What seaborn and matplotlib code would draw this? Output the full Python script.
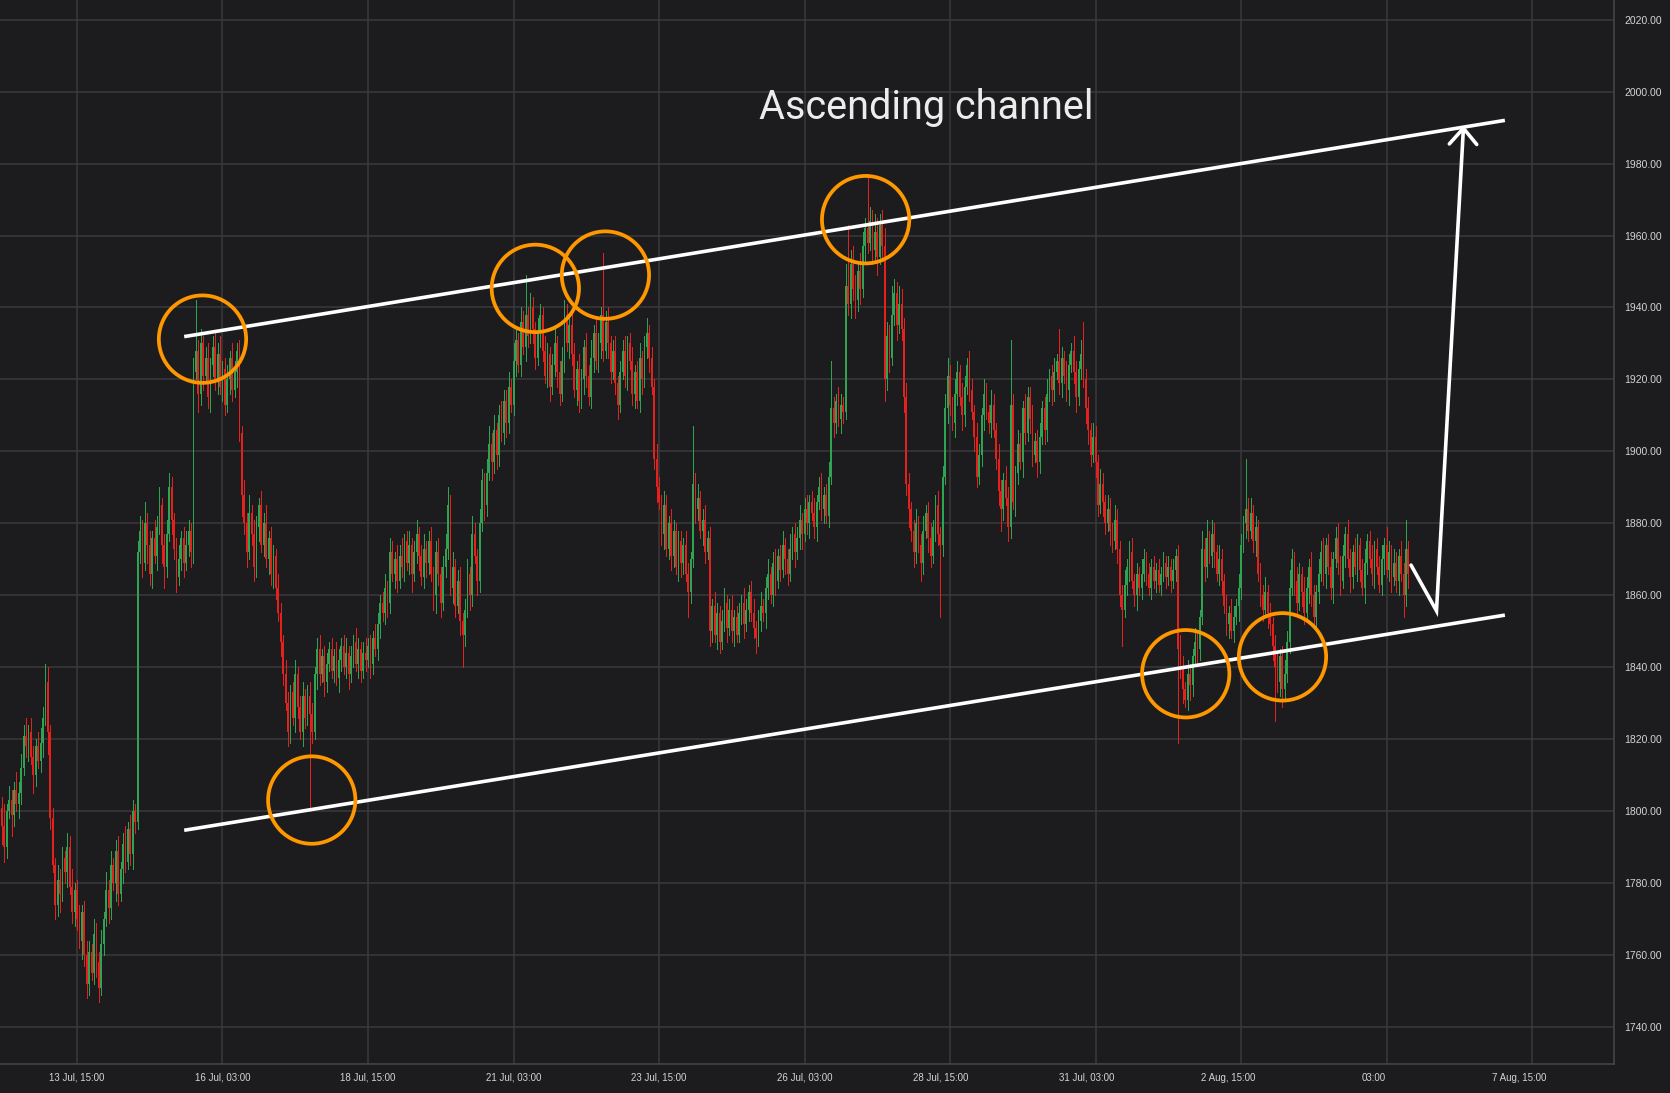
import numpy as np
import pandas as pd
import matplotlib
matplotlib.use("Agg")
import matplotlib.pyplot as plt
import matplotlib.dates as mdates
import matplotlib.transforms as mtransforms
from matplotlib.patches import Ellipse
import seaborn as sns

# ------------------------------------------------------------------ data
start_time = "2023-07-12 08:00"   # first hourly candle
first_open = 1801

close = [
    1796, 1790, 1800, 1803, 1799, 1806, 1802, 1805, 1812, 1821, 1818, 1822, 1815, 1810, 1818, 1814,
    1819, 1826, 1836, 1822, 1798, 1785, 1774, 1781, 1777, 1787, 1783, 1790, 1779, 1772, 1778, 1770, 1764, 1772, 1760, 1752, 1761, 1755, 1766, 1758,
    1751, 1763, 1770, 1778, 1773, 1785, 1780, 1789, 1777, 1784, 1791, 1786, 1795, 1788, 1800, 1797, 1872, 1878, 1869, 1880, 1874, 1866, 1876, 1871,
    1879, 1885, 1874, 1868, 1877, 1890, 1881, 1873, 1865, 1870, 1876, 1869, 1874, 1878, 1872, 1922, 1928, 1916, 1930, 1921, 1926, 1915, 1924, 1929,
    1920, 1927, 1918, 1923, 1913, 1920, 1926, 1917, 1922, 1928, 1905, 1888, 1880, 1872, 1883, 1877, 1868, 1879, 1885, 1874, 1880, 1870, 1876, 1866,
    1871, 1862, 1855, 1847, 1838, 1830, 1822, 1833, 1826, 1838, 1829, 1822, 1832, 1826, 1832, 1827, 1822, 1838, 1845, 1838, 1843, 1836, 1841, 1845,
    1839, 1843, 1837, 1842, 1846, 1840, 1844, 1838, 1843, 1847, 1841, 1845, 1839, 1844, 1842, 1846, 1841, 1848, 1845, 1852, 1858, 1855, 1862, 1858,
    1872, 1866, 1870, 1864, 1871, 1868, 1875, 1869, 1874, 1866, 1872, 1877, 1871, 1865, 1873, 1869, 1875, 1866, 1860, 1872, 1866, 1858, 1868, 1873,
    1885, 1862, 1868, 1857, 1864, 1853, 1849, 1856, 1866, 1860, 1877, 1871, 1864, 1880, 1892, 1885, 1894, 1902, 1897, 1906, 1899, 1910, 1905, 1914,
    1908, 1918, 1913, 1925, 1931, 1924, 1936, 1929, 1938, 1932, 1940, 1934, 1926, 1933, 1938, 1928, 1921, 1927, 1918, 1924, 1930, 1922, 1916, 1925,
    1938, 1930, 1935, 1927, 1917, 1923, 1914, 1920, 1929, 1921, 1915, 1926, 1933, 1925, 1930, 1938, 1928, 1936, 1930, 1922, 1928, 1919, 1913, 1922,
    1928, 1921, 1930, 1925, 1916, 1922, 1914, 1926, 1920, 1929, 1933, 1926, 1918, 1898, 1890, 1886, 1877, 1885, 1873, 1880, 1871, 1878, 1868, 1875,
    1869, 1874, 1866, 1861, 1870, 1891, 1884, 1887, 1878, 1881, 1872, 1876, 1850, 1857, 1849, 1855, 1847, 1853, 1858, 1851, 1856, 1850, 1854, 1849,
    1855, 1858, 1852, 1856, 1861, 1855, 1851, 1848, 1853, 1857, 1855, 1862, 1866, 1860, 1869, 1864, 1871, 1867, 1874, 1870, 1866, 1873, 1877, 1872,
    1876, 1881, 1877, 1884, 1880, 1886, 1883, 1879, 1886, 1890, 1884, 1888, 1882, 1893, 1912, 1908, 1914, 1909, 1913, 1911, 1946, 1941, 1952, 1945,
    1942, 1950, 1945, 1957, 1962, 1958, 1964, 1956, 1961, 1954, 1963, 1957, 1920, 1932, 1926, 1938, 1944, 1935, 1941, 1934, 1915, 1891, 1884, 1878,
    1872, 1880, 1874, 1869, 1878, 1883, 1876, 1871, 1879, 1885, 1877, 1874, 1893, 1912, 1921, 1913, 1908, 1916, 1922, 1915, 1910, 1918, 1924, 1917,
    1911, 1904, 1893, 1899, 1910, 1916, 1911, 1908, 1913, 1906, 1898, 1889, 1884, 1892, 1887, 1879, 1913, 1886, 1894, 1902, 1897, 1912, 1905, 1915,
    1909, 1899, 1903, 1897, 1904, 1912, 1906, 1916, 1921, 1917, 1922, 1925, 1919, 1926, 1921, 1917, 1924, 1928, 1922, 1915, 1923, 1927, 1920, 1912,
    1906, 1899, 1904, 1897, 1885, 1891, 1886, 1880, 1884, 1878, 1875, 1881, 1873, 1860, 1856, 1863, 1868, 1872, 1864, 1860, 1866, 1862, 1866, 1870,
    1866, 1862, 1868, 1864, 1867, 1863, 1866, 1869, 1865, 1868, 1864, 1867, 1871, 1845, 1840, 1834, 1831, 1838, 1835, 1843, 1847, 1845, 1854, 1873,
    1868, 1876, 1871, 1877, 1872, 1866, 1870, 1864, 1857, 1852, 1855, 1850, 1854, 1857, 1862, 1874, 1880, 1884, 1878, 1883, 1875, 1879, 1866, 1860,
    1856, 1861, 1855, 1852, 1846, 1840, 1836, 1843, 1834, 1838, 1847, 1862, 1870, 1864, 1858, 1866, 1861, 1855, 1862, 1868, 1860, 1854, 1861, 1866,
    1872, 1866, 1874, 1868, 1862, 1870, 1876, 1869, 1864, 1871, 1877, 1870, 1865, 1872, 1868, 1874, 1867, 1862, 1869, 1875, 1870, 1866, 1873, 1868,
    1863, 1870, 1874, 1867, 1872, 1865, 1869, 1864, 1871, 1866, 1860, 1873, 1866,
]

# wick lengths beyond the candle body (price units)
wick_up = [
    3, 6, 2, 4, 3, 2, 5, 3, 4, 3, 5, 2, 4, 3, 2, 4,
    4, 3, 5, 4, 2, 3, 2, 4, 3, 3, 2, 4, 3, 5, 2, 3, 4, 2, 3, 4, 3, 2, 4, 3,
    3, 4, 2, 5, 3, 4, 2, 3, 4, 2, 3, 5, 2, 4, 3, 2, 3, 4, 3, 6, 3, 4, 2, 5,
    3, 5, 2, 3, 4, 4, 3, 2, 3, 4, 2, 3, 4, 3, 2, 4, 14, 3, 4, 2, 3, 4, 2, 3,
    4, 3, 5, 2, 3, 4, 2, 4, 3, 2, 3, 2, 4, 3, 5, 2, 4, 3, 2, 4, 3, 5, 2, 3,
    3, 2, 4, 3, 2, 4, 3, 2, 3, 4, 2, 3, 4, 2, 3, 4, 3, 2, 3, 4, 2, 3, 3, 2,
    3, 2, 4, 3, 2, 3, 4, 2, 3, 2, 4, 3, 2, 3, 4, 2, 3, 2, 4, 3, 2, 3, 4, 2,
    4, 3, 2, 4, 3, 5, 2, 3, 4, 2, 3, 4, 2, 3, 4, 2, 3, 4, 2, 3, 4, 2, 3, 4,
    5, 3, 4, 2, 3, 4, 2, 3, 4, 2, 5, 3, 2, 4, 3, 2, 4, 5, 3, 4, 2, 3, 4, 3,
    3, 4, 2, 5, 3, 2, 4, 3, 11, 2, 4, 3, 2, 4, 3, 2, 4, 3, 2, 3, 4, 2, 3, 4,
    4, 3, 2, 4, 3, 2, 4, 3, 2, 4, 3, 5, 2, 4, 3, 2, 17, 3, 4, 2, 3, 4, 2, 3,
    3, 4, 2, 3, 4, 2, 3, 4, 2, 3, 4, 2, 3, 2, 4, 3, 2, 4, 3, 2, 4, 3, 2, 3,
    3, 2, 4, 3, 2, 16, 3, 4, 2, 3, 4, 2, 3, 2, 4, 3, 2, 3, 4, 2, 3, 4, 2, 3,
    3, 2, 4, 3, 2, 3, 4, 2, 3, 4, 2, 3, 4, 2, 3, 4, 2, 3, 4, 2, 3, 4, 2, 3,
    3, 4, 2, 3, 4, 2, 3, 4, 2, 3, 4, 2, 3, 4, 13, 3, 2, 4, 3, 2, 6, 17, 4, 5,
    4, 3, 5, 4, 3, 15, 4, 3, 5, 4, 3, 4, 5, 4, 3, 8, 4, 3, 5, 4, 3, 4, 3, 2,
    3, 4, 2, 3, 4, 2, 3, 4, 2, 3, 4, 2, 3, 4, 5, 3, 2, 4, 3, 2, 4, 3, 2, 4,
    3, 2, 4, 3, 2, 4, 3, 2, 4, 3, 2, 4, 3, 2, 4, 3, 18, 3, 2, 4, 3, 2, 4, 3,
    3, 4, 2, 3, 4, 2, 3, 4, 2, 3, 4, 2, 9, 3, 2, 4, 3, 2, 4, 3, 2, 4, 9, 3,
    3, 2, 4, 3, 2, 4, 3, 2, 4, 3, 2, 4, 3, 2, 3, 4, 2, 3, 4, 2, 3, 2, 4, 3,
    2, 3, 2, 3, 2, 3, 2, 3, 2, 3, 2, 3, 2, 3, 4, 3, 2, 4, 3, 2, 4, 3, 2, 5,
    3, 5, 2, 4, 3, 2, 4, 3, 2, 3, 2, 4, 3, 2, 4, 3, 2, 14, 3, 4, 2, 3, 2, 3,
    3, 4, 2, 3, 2, 3, 4, 2, 3, 4, 3, 5, 3, 2, 4, 3, 2, 4, 3, 2, 4, 3, 2, 4,
    3, 4, 2, 3, 4, 2, 3, 4, 2, 3, 2, 4, 3, 2, 4, 3, 2, 3, 4, 2, 3, 4, 2, 3,
    3, 4, 2, 5, 3, 2, 4, 3, 2, 4, 3, 8, 2,
]
wick_dn = [
    5, 4, 3, 2, 6, 3, 2, 4, 3, 2, 3, 4, 2, 5, 3, 2,
    3, 4, 2, 6, 3, 2, 4, 3, 5, 2, 3, 4, 2, 3, 4, 3, 2, 5, 3, 4, 3, 2, 3, 4,
    4, 2, 3, 2, 4, 3, 2, 5, 3, 2, 4, 3, 2, 3, 4, 3, 2, 3, 4, 2, 5, 3, 4, 2,
    4, 2, 5, 6, 3, 2, 4, 3, 4, 2, 3, 4, 2, 3, 4, 3, 2, 5, 3, 4, 2, 3, 4, 3,
    3, 4, 2, 4, 3, 2, 4, 3, 2, 4, 2, 6, 3, 4, 2, 3, 4, 3, 4, 2, 3, 2, 4, 3,
    4, 3, 2, 4, 3, 2, 4, 3, 2, 4, 3, 2, 4, 3, 2, 27, 3, 2, 4, 3, 2, 4, 3, 2,
    2, 3, 2, 4, 3, 2, 3, 4, 2, 3, 2, 4, 3, 2, 3, 2, 4, 3, 2, 3, 4, 2, 3, 4,
    3, 2, 4, 3, 2, 3, 4, 2, 3, 5, 2, 3, 4, 2, 3, 4, 3, 2, 4, 5, 3, 4, 2, 3,
    3, 2, 4, 3, 2, 4, 9, 3, 2, 4, 3, 2, 4, 3, 2, 4, 3, 2, 5, 3, 4, 3, 2, 3,
    4, 3, 2, 3, 4, 2, 3, 2, 4, 3, 2, 4, 3, 2, 4, 3, 2, 3, 4, 2, 3, 4, 3, 2,
    3, 2, 4, 3, 2, 4, 3, 2, 4, 3, 2, 3, 4, 2, 3, 4, 3, 2, 4, 3, 2, 3, 4, 2,
    2, 3, 4, 2, 3, 4, 2, 3, 4, 2, 3, 4, 2, 3, 4, 2, 3, 4, 2, 3, 4, 3, 2, 4,
    4, 3, 2, 7, 3, 2, 4, 3, 2, 4, 3, 2, 4, 3, 2, 4, 3, 2, 3, 4, 2, 3, 4, 2,
    2, 3, 4, 2, 3, 2, 3, 4, 2, 3, 2, 4, 3, 2, 3, 4, 2, 3, 2, 4, 3, 2, 3, 4,
    2, 3, 4, 2, 3, 4, 2, 3, 4, 2, 3, 4, 2, 3, 2, 4, 3, 2, 4, 3, 2, 3, 4, 3,
    5, 3, 4, 2, 4, 3, 2, 4, 3, 5, 2, 4, 6, 3, 4, 2, 3, 4, 2, 3, 4, 3, 5, 3,
    4, 3, 2, 5, 3, 2, 4, 3, 2, 4, 3, 20, 3, 2, 4, 3, 2, 4, 3, 2, 4, 3, 2, 3,
    2, 4, 3, 2, 3, 4, 2, 3, 4, 2, 3, 4, 6, 3, 2, 4, 3, 2, 4, 3, 2, 4, 3, 2,
    4, 3, 2, 4, 3, 2, 4, 3, 2, 4, 3, 2, 3, 4, 2, 3, 4, 2, 3, 4, 2, 3, 2, 4,
    4, 3, 2, 4, 3, 2, 4, 3, 2, 4, 3, 2, 4, 3, 10, 2, 3, 4, 2, 3, 4, 2, 3, 2,
    3, 2, 3, 2, 3, 2, 3, 2, 3, 2, 3, 2, 3, 26, 3, 4, 2, 3, 4, 3, 2, 4, 3, 2,
    4, 3, 2, 3, 4, 2, 3, 4, 2, 3, 4, 2, 3, 2, 4, 3, 2, 4, 3, 2, 3, 4, 2, 3,
    3, 2, 4, 3, 4, 15, 3, 4, 5, 3, 2, 3, 2, 4, 3, 2, 4, 3, 2, 4, 3, 2, 4, 3,
    2, 3, 4, 2, 3, 4, 2, 3, 4, 2, 3, 2, 4, 3, 2, 4, 3, 2, 4, 3, 2, 3, 4, 2,
    2, 3, 4, 2, 3, 4, 2, 3, 4, 2, 6, 3, 4,
]

y_ticks = [1740, 1760, 1780, 1800, 1820, 1840, 1860, 1880, 1900, 1920, 1940, 1960, 1980, 2000, 2020]
x_tick_times = ["2023-07-13 15:00", "2023-07-16 03:00", "2023-07-18 15:00", "2023-07-21 03:00",
                "2023-07-23 15:00", "2023-07-26 03:00", "2023-07-28 15:00", "2023-07-31 03:00",
                "2023-08-02 15:00", "2023-08-05 03:00", "2023-08-07 15:00"]
x_tick_labels = ["13 Jul, 15:00", "16 Jul, 03:00", "18 Jul, 15:00", "21 Jul, 03:00",
                 "23 Jul, 15:00", "26 Jul, 03:00", "28 Jul, 15:00", "31 Jul, 03:00",
                 "2 Aug, 15:00", "03:00", "7 Aug, 15:00"]
x_range = ["2023-07-12 07:15", "2023-08-09 00:48"]
y_range = [1729.8, 2025.45]

channel_times = ["2023-07-15 11:12", "2023-08-07 03:48"]
upper_channel = [1931.9, 1992.0]
lower_channel = [1794.7, 1854.5]

touch_times = ["2023-07-15 18:45", "2023-07-17 15:48", "2023-07-21 12:00", "2023-07-22 16:54",
               "2023-07-27 04:12", "2023-08-01 16:12", "2023-08-03 08:06"]
touch_prices = [1931.2, 1803.1, 1945.3, 1949.0, 1964.4, 1838.2, 1842.9]

arrow_times = ["2023-08-05 13:06", "2023-08-05 23:36", "2023-08-06 10:42"]
arrow_prices = [1868.4, 1855.7, 1989.8]
arrow_head_times = ["2023-08-06 04:54", "2023-08-06 10:42", "2023-08-06 16:12"]
arrow_head_prices = [1985.45, 1989.8, 1985.3]

title_text = "Ascending channel"
title_time = "2023-07-28 05:18"
title_price = 1992.3

# ------------------------------------------------------------------ style
bg = "#1c1c1e"
grid_c = "#3a3a3c"
green = "#2ea352"
red = "#e5211d"
orange = "#ff9800"
label_c = "#d4d4d4"
# horizontal nudges (points) of the x tick labels relative to their grid lines
x_label_shift_pt = [0, 0, 0, 0, 0, 0, -6.5, -6.5, -9.5, -9.5, -9.5]

sns.set_theme(style="dark", rc={
    "axes.facecolor": bg, "figure.facecolor": bg, "savefig.facecolor": bg,
    "grid.color": grid_c, "axes.edgecolor": grid_c,
})
plt.rcParams["font.family"] = ["Liberation Sans", "DejaVu Sans"]

fig = plt.figure(figsize=(16.7, 10.93), dpi=100)
ax = fig.add_axes([0.0, 29.2 / 1093, 1614 / 1670, 1 - 29.2 / 1093])
ax.set_facecolor(bg)

def dn(vals):
    return mdates.date2num(pd.to_datetime(vals).to_pydatetime())

# ------------------------------------------------------------------ candles
times = pd.date_range(start_time, periods=len(close), freq="h")
df = pd.DataFrame({"time": times, "close": np.asarray(close, float)})
df["open"] = np.r_[first_open, df["close"].values[:-1]]
df["high"] = np.maximum(df["open"], df["close"]) + np.asarray(wick_up)
df["low"] = np.minimum(df["open"], df["close"]) - np.asarray(wick_dn)
df["color"] = np.where(df["close"] >= df["open"], green, red)
x = mdates.date2num(df["time"].dt.to_pydatetime())

ax.vlines(x, df["low"], df["high"], colors=df["color"], linewidth=0.7, zorder=3,
          antialiased=False)
body = np.maximum((df["close"] - df["open"]).abs(), 0.6)
ax.bar(x, body, bottom=np.minimum(df["open"], df["close"]), width=0.72 / 24,
       color=df["color"], linewidth=0, zorder=3, antialiased=False)

# ------------------------------------------------------------------ drawings
ct = dn(channel_times)
ax.plot(ct, upper_channel, color="white", lw=2.6, zorder=5, solid_capstyle="butt")
ax.plot(ct, lower_channel, color="white", lw=2.6, zorder=5, solid_capstyle="butt")

for tt, pp in zip(dn(touch_times), touch_prices):
    ax.add_patch(Ellipse((tt, pp), width=36.0 / 24, height=24.3, fill=False,
                         edgecolor=orange, lw=2.7, zorder=6))

ax.plot(dn(arrow_times), arrow_prices, color="white", lw=2.6, zorder=6,
        solid_joinstyle="miter")
ax.plot(dn(arrow_head_times), arrow_head_prices, color="white", lw=2.6, zorder=6)

ax.text(dn([title_time])[0], title_price, title_text, family=["Roboto", "DejaVu Sans"],
        fontsize=28.5, color="#ececec", ha="center", va="baseline", zorder=7)

# ------------------------------------------------------------------ axes
ax.set_xlim(dn(x_range))
ax.set_ylim(y_range)
ax.set_yticks(y_ticks)
ax.set_yticklabels([f"{v:.2f}" for v in y_ticks])
ax.set_xticks(dn(x_tick_times))
ax.set_xticklabels(x_tick_labels)
ax.yaxis.tick_right()
ax.tick_params(axis="y", length=0, pad=7.5, labelsize=7.5, labelcolor=label_c)
ax.tick_params(axis="x", length=0, pad=6.5, labelsize=7, labelcolor=label_c)
for lab, sh in zip(ax.get_xticklabels(), x_label_shift_pt):
    lab.set_transform(lab.get_transform() +
                      mtransforms.ScaledTranslation(sh / 72, 0, fig.dpi_scale_trans))
ax.grid(True, color=grid_c, lw=1.1)
ax.set_axisbelow(True)
for s in ["top", "left"]:
    ax.spines[s].set_visible(False)
for s in ["right", "bottom"]:
    ax.spines[s].set_visible(True)
    ax.spines[s].set_color("#48484a")
    ax.spines[s].set_linewidth(1.1)
ax.set_xlabel("")
ax.set_ylabel("")

fig.savefig("out.png", dpi=100)
